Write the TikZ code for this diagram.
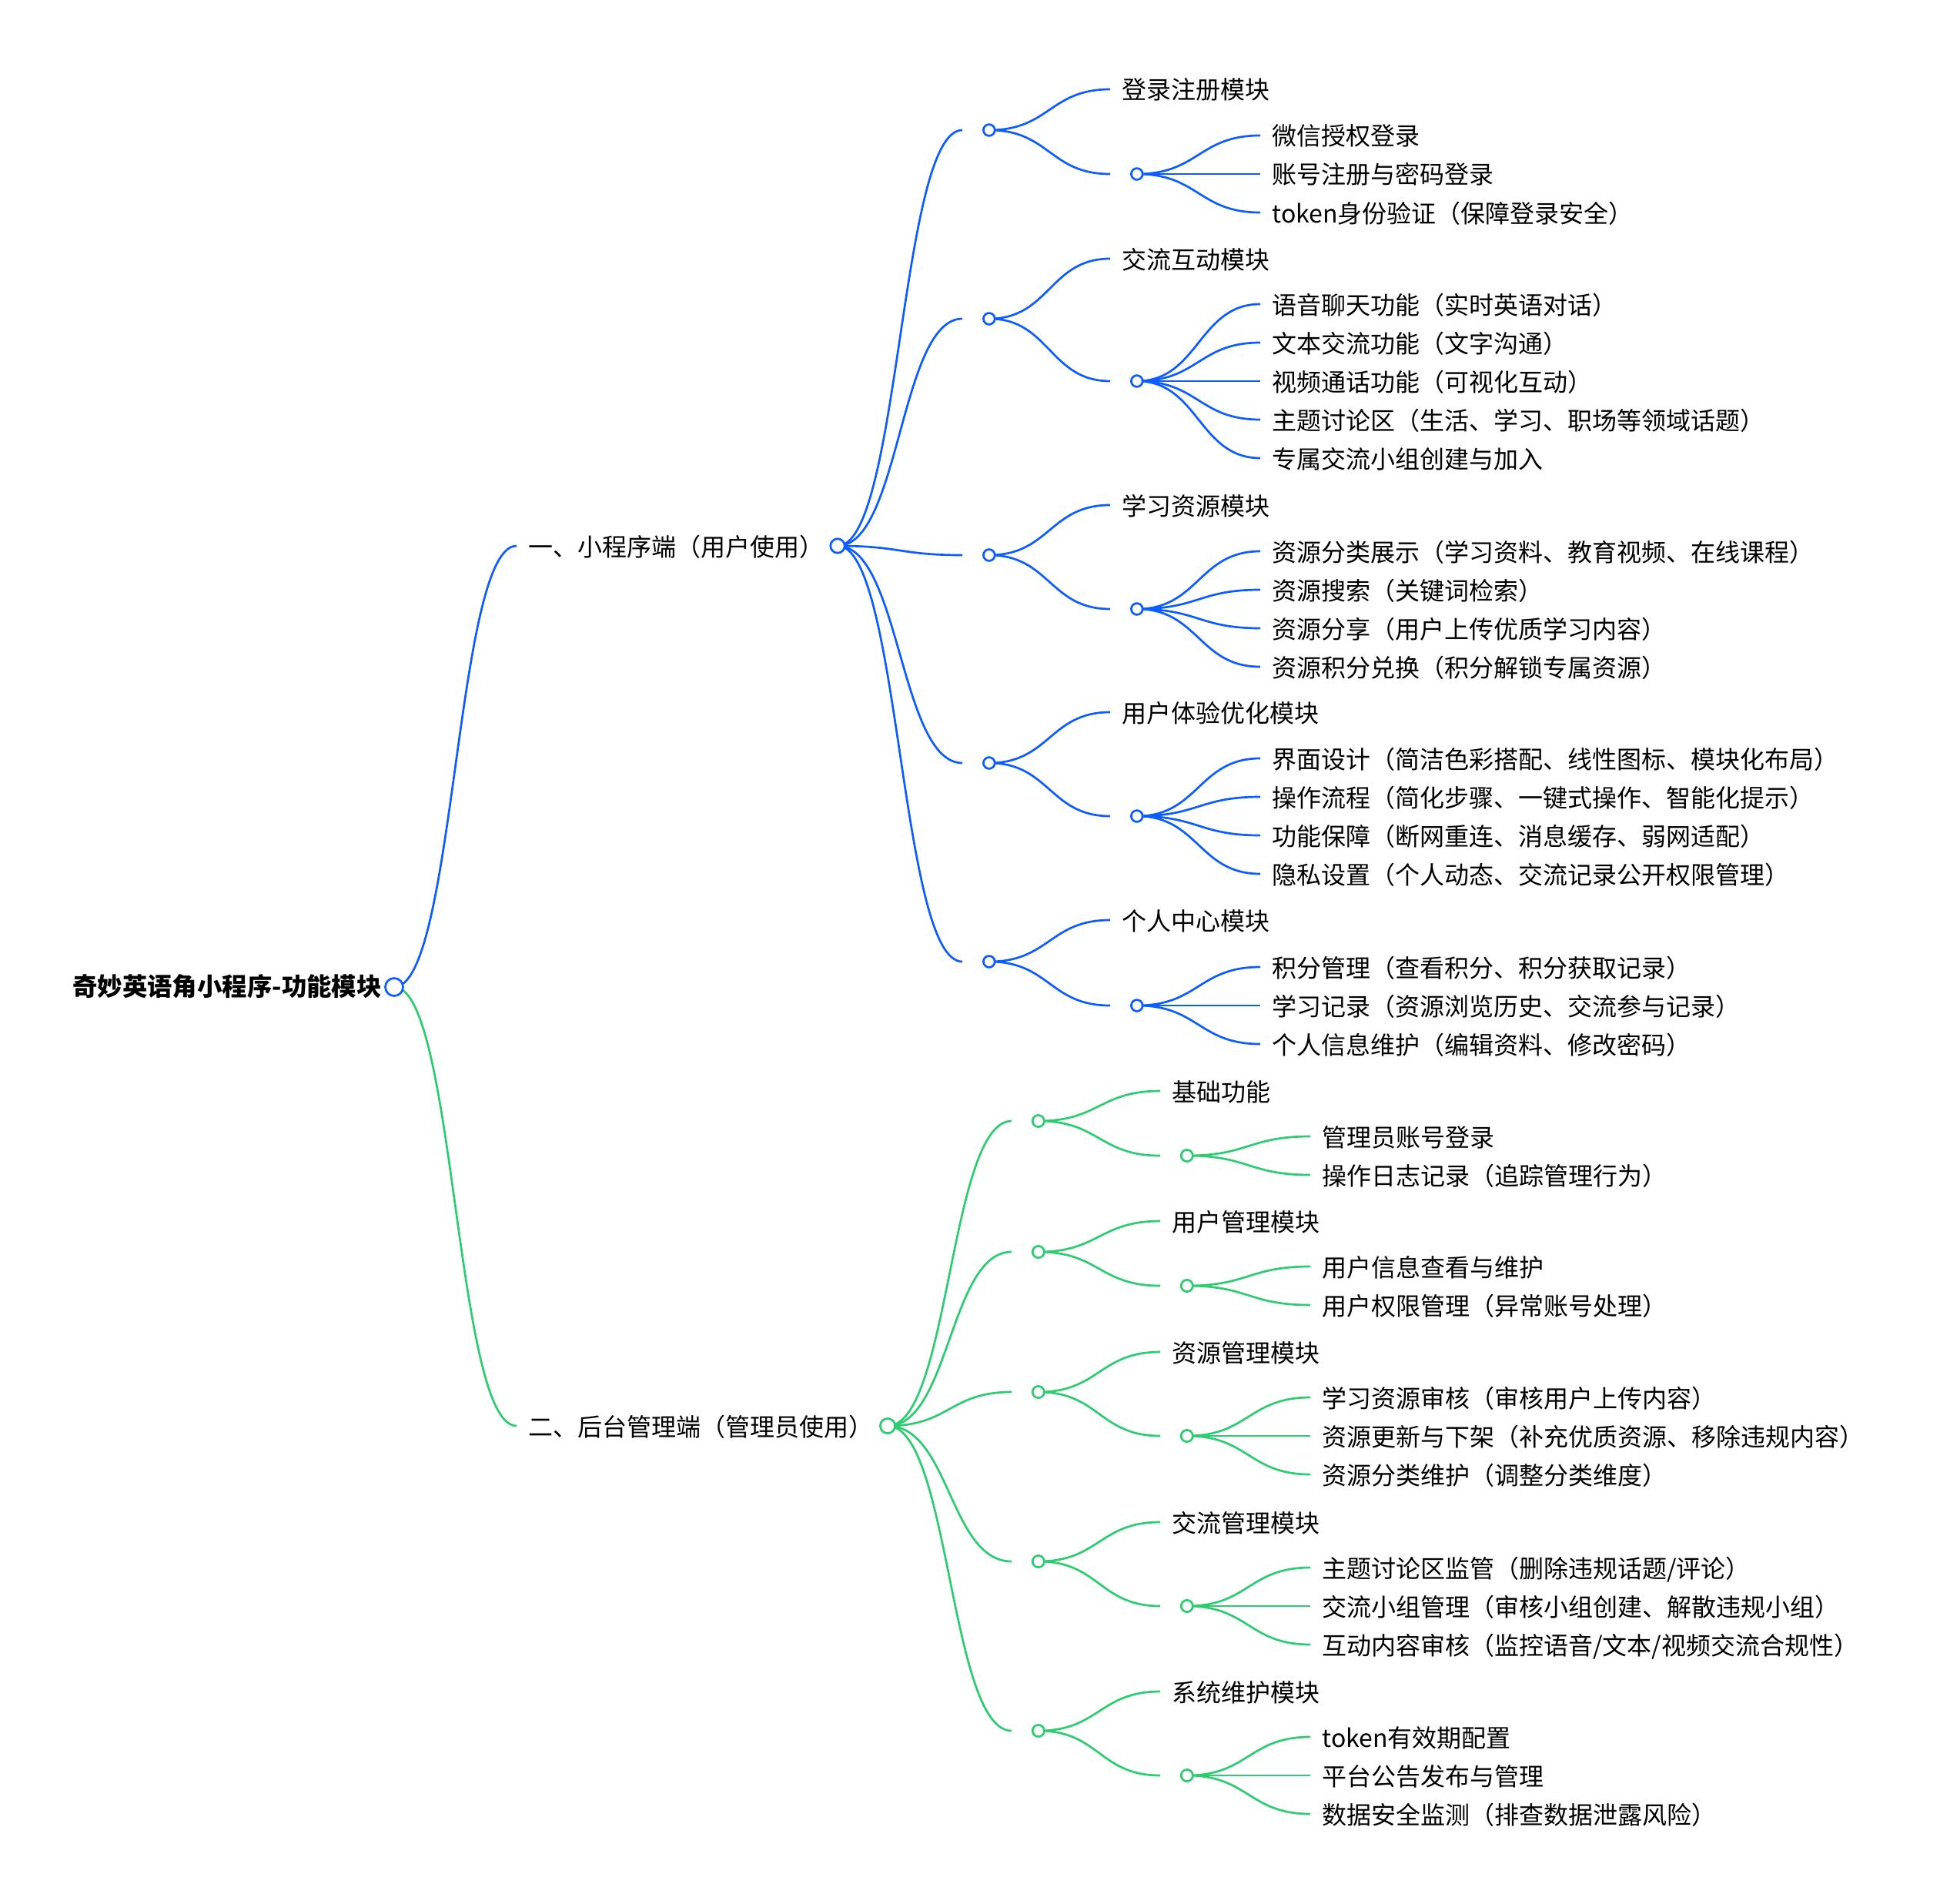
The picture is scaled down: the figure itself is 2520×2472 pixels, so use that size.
\documentclass[tikz,border=0pt]{standalone}
\usepackage{fontspec}
\setmainfont{Noto Sans CJK SC}
\usetikzlibrary{calc,backgrounds}
\definecolor{appblue}{RGB}{12,92,255}
\definecolor{admgreen}{RGB}{44,204,112}
\tikzset{
  lbl/.style={anchor=west,inner xsep=7.5pt,inner ysep=0pt,text height=1.34em,text depth=0.04em,
    font=\fontsize{16}{19}\selectfont},
  blank/.style={anchor=west,inner sep=0pt,minimum width=17pt,minimum height=0pt},
  hub/.style={circle,draw,fill=white,line width=1.35pt,inner sep=0pt,minimum size=#1},
  ahub/.style={hub=7.4pt,draw=appblue},
  bhub/.style={hub=7.6pt,draw=admgreen},
  aline/.style={draw=appblue,line width=1.35pt,branch},
  bline/.style={draw=admgreen,line width=1.35pt,branch},
  branch/.style={to path={let \p1=(\tikztostart),\p2=(\tikztotarget) in
    .. controls ({0.5*\x1+0.5*\x2},\y1) and ({0.5*\x1+0.5*\x2},\y2) .. (\tikztotarget)}},
}
\begin{document}
\begin{tikzpicture}[x=0.5pt,y=-0.5pt]
\useasboundingbox (0,0) rectangle (2520,2472);
% root
\node[lbl,anchor=east,inner xsep=0pt,text height=1.2em,font=\fontsize{16.2}{19}\selectfont\bfseries] (root) at (496,1282) {奇妙英语角小程序-功能模块};
\node[hub=11.5pt,draw=appblue] (hroot) at (512,1282) {};

% 一、小程序端
\node[lbl] (a) at (671,709) {一、小程序端（用户使用）};
\node[hub=9.2pt,draw=appblue] (ha) at (1088,709) {};

\node[blank] (a1) at (1250,169) {};
\node[ahub] (ha1) at (a1.east) {};
\node[lbl] (ta1) at (1442,116) {登录注册模块};
\node[blank] (sa1) at (1442,226) {};
\node[ahub] (hsa1) at (sa1.east) {};
\foreach \y/\n [count=\i] in {176/微信授权登录,226/账号注册与密码登录,276/{token身份验证（保障登录安全）}}
  \node[lbl] (ia1-\i) at (1637,\y) {\n};

\node[blank] (a2) at (1250,414) {};
\node[ahub] (ha2) at (a2.east) {};
\node[lbl] (ta2) at (1442,336) {交流互动模块};
\node[blank] (sa2) at (1442,495) {};
\node[ahub] (hsa2) at (sa2.east) {};
\foreach \y/\n [count=\i] in {395/{语音聊天功能（实时英语对话）},445/{文本交流功能（文字沟通）},
    495/{视频通话功能（可视化互动）},545/{主题讨论区（生活、学习、职场等领域话题）},595/专属交流小组创建与加入}
  \node[lbl] (ia2-\i) at (1637,\y) {\n};

\node[blank] (a3) at (1250,721) {};
\node[ahub] (ha3) at (a3.east) {};
\node[lbl] (ta3) at (1442,656) {学习资源模块};
\node[blank] (sa3) at (1442,791) {};
\node[ahub] (hsa3) at (sa3.east) {};
\foreach \y/\n [count=\i] in {716/{资源分类展示（学习资料、教育视频、在线课程）},766/{资源搜索（关键词检索）},
    816/{资源分享（用户上传优质学习内容）},866/{资源积分兑换（积分解锁专属资源）}}
  \node[lbl] (ia3-\i) at (1637,\y) {\n};

\node[blank] (a4) at (1250,991) {};
\node[ahub] (ha4) at (a4.east) {};
\node[lbl] (ta4) at (1442,925) {用户体验优化模块};
\node[blank] (sa4) at (1442,1060) {};
\node[ahub] (hsa4) at (sa4.east) {};
\foreach \y/\n [count=\i] in {985/{界面设计（简洁色彩搭配、线性图标、模块化布局）},1035/{操作流程（简化步骤、一键式操作、智能化提示）},
    1085/{功能保障（断网重连、消息缓存、弱网适配）},1135/{隐私设置（个人动态、交流记录公开权限管理）}}
  \node[lbl] (ia4-\i) at (1637,\y) {\n};

\node[blank] (a5) at (1250,1249) {};
\node[ahub] (ha5) at (a5.east) {};
\node[lbl] (ta5) at (1442,1195) {个人中心模块};
\node[blank] (sa5) at (1442,1306) {};
\node[ahub] (hsa5) at (sa5.east) {};
\foreach \y/\n [count=\i] in {1256/{积分管理（查看积分、积分获取记录）},1306/{学习记录（资源浏览历史、交流参与记录）},
    1356/{个人信息维护（编辑资料、修改密码）}}
  \node[lbl] (ia5-\i) at (1637,\y) {\n};

% 二、后台管理端
\node[lbl] (b) at (671,1852) {二、后台管理端（管理员使用）};
\node[hub=9.6pt,draw=admgreen] (hb) at (1153,1852) {};

\node[blank] (b1) at (1314,1456) {};
\node[bhub] (hb1) at (b1.east) {};
\node[lbl] (tb1) at (1507,1417) {基础功能};
\node[blank] (sb1) at (1507,1501) {};
\node[bhub] (hsb1) at (sb1.east) {};
\foreach \y/\n [count=\i] in {1476/管理员账号登录,1526/{操作日志记录（追踪管理行为）}}
  \node[lbl] (ib1-\i) at (1702,\y) {\n};

\node[blank] (b2) at (1314,1626) {};
\node[bhub] (hb2) at (b2.east) {};
\node[lbl] (tb2) at (1507,1586) {用户管理模块};
\node[blank] (sb2) at (1507,1670) {};
\node[bhub] (hsb2) at (sb2.east) {};
\foreach \y/\n [count=\i] in {1645/用户信息查看与维护,1695/{用户权限管理（异常账号处理）}}
  \node[lbl] (ib2-\i) at (1702,\y) {\n};

\node[blank] (b3) at (1314,1808) {};
\node[bhub] (hb3) at (b3.east) {};
\node[lbl] (tb3) at (1507,1756) {资源管理模块};
\node[blank] (sb3) at (1507,1865) {};
\node[bhub] (hsb3) at (sb3.east) {};
\foreach \y/\n [count=\i] in {1815/{学习资源审核（审核用户上传内容）},1865/{资源更新与下架（补充优质资源、移除违规内容）},
    1915/{资源分类维护（调整分类维度）}}
  \node[lbl] (ib3-\i) at (1702,\y) {\n};

\node[blank] (b4) at (1314,2028) {};
\node[bhub] (hb4) at (b4.east) {};
\node[lbl] (tb4) at (1507,1977) {交流管理模块};
\node[blank] (sb4) at (1507,2086) {};
\node[bhub] (hsb4) at (sb4.east) {};
\foreach \y/\n [count=\i] in {2036/{主题讨论区监管（删除违规话题/评论）},2086/{交流小组管理（审核小组创建、解散违规小组）},
    2136/{互动内容审核（监控语音/文本/视频交流合规性）}}
  \node[lbl] (ib4-\i) at (1702,\y) {\n};

\node[blank] (b5) at (1314,2248) {};
\node[bhub] (hb5) at (b5.east) {};
\node[lbl] (tb5) at (1507,2197) {系统维护模块};
\node[blank] (sb5) at (1507,2306) {};
\node[bhub] (hsb5) at (sb5.east) {};
\foreach \y/\n [count=\i] in {2256/token有效期配置,2306/平台公告发布与管理,2356/{数据安全监测（排查数据泄露风险）}}
  \node[lbl] (ib5-\i) at (1702,\y) {\n};

% connectors
\begin{scope}[on background layer]
\draw[aline] (hroot.center) to (a.west);
\draw[bline] (hroot.center) to (b.west);
\foreach \m/\k in {1/3,2/5,3/4,4/4,5/3} {
  \draw[aline] (ha.center) to (a\m.west);
  \draw[aline] (ha\m.center) to (ta\m.west);
  \draw[aline] (ha\m.center) to (sa\m.west);
  \foreach \i in {1,...,\k}
    \draw[aline] (hsa\m.center) to (ia\m-\i.west);
}
\foreach \m/\k in {1/2,2/2,3/3,4/3,5/3} {
  \draw[bline] (hb.center) to (b\m.west);
  \draw[bline] (hb\m.center) to (tb\m.west);
  \draw[bline] (hb\m.center) to (sb\m.west);
  \foreach \i in {1,...,\k}
    \draw[bline] (hsb\m.center) to (ib\m-\i.west);
}
\end{scope}
\end{tikzpicture}
\end{document}
